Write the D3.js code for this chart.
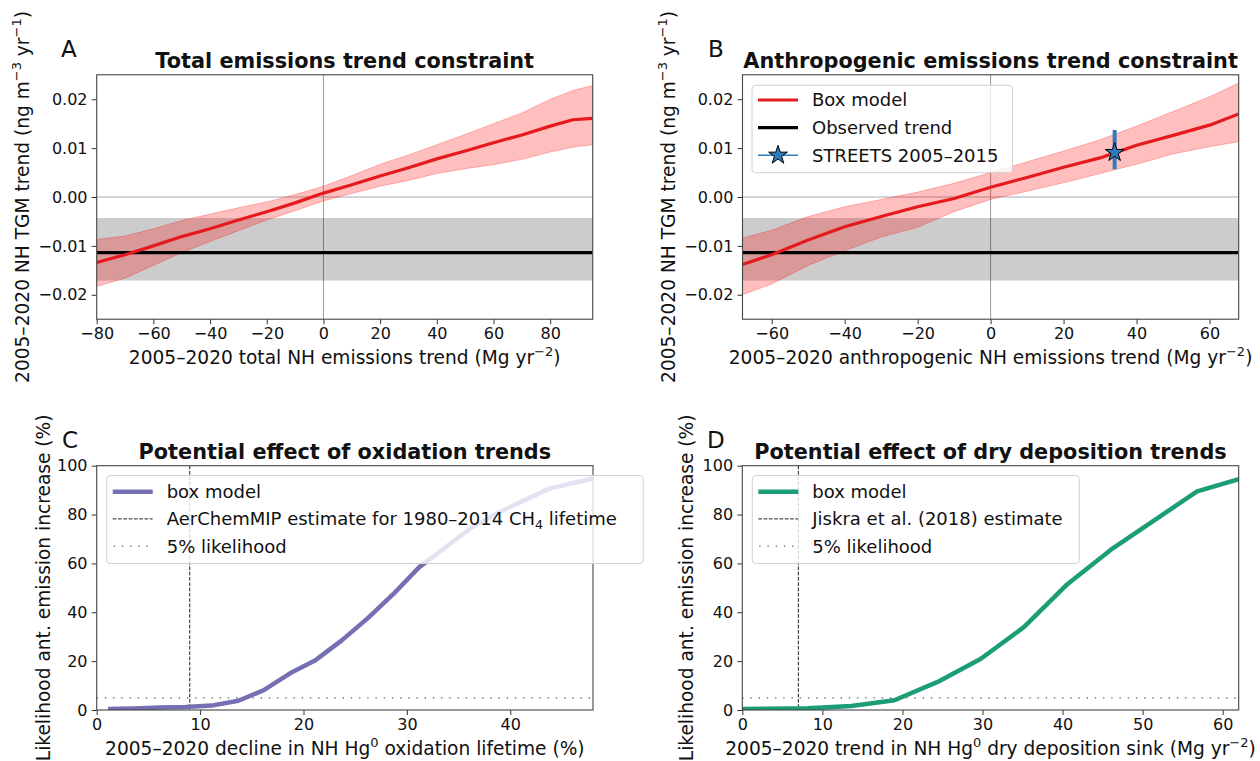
<!DOCTYPE html>
<html>
<head>
<meta charset="utf-8">
<script src="https://cdn.jsdelivr.net/npm/d3@7"></script>
<style>
  body { margin: 0; background: #fff; }
  text { font-family: "DejaVu Sans", sans-serif; fill: #111; }
</style>
</head>
<body>
<svg id="fig" width="1260" height="761"></svg>
<script>
// ---- Panel A: total emissions trend vs. TGM trend ----
const totalX     = [-80, -70, -60, -50, -40, -30, -20, -10, 0, 10, 20, 30, 40, 50, 60, 70, 80, 88, 95];
const totalMean  = [-0.0134, -0.0118, -0.0100, -0.0081, -0.0065, -0.0047, -0.0030, -0.0012, 0.0008, 0.0025, 0.0043, 0.0060, 0.0078, 0.0094, 0.0111, 0.0127, 0.0145, 0.0158, 0.0161];
const totalLower = [-0.0183, -0.0166, -0.0140, -0.0114, -0.0091, -0.0069, -0.0047, -0.0028, -0.0008, 0.0007, 0.0022, 0.0034, 0.0048, 0.0058, 0.0066, 0.0077, 0.0092, 0.0102, 0.0107];
const totalUpper = [-0.0087, -0.0080, -0.0065, -0.0048, -0.0035, -0.0022, -0.0010, 0.0005, 0.0022, 0.0044, 0.0067, 0.0086, 0.0107, 0.0128, 0.0150, 0.0172, 0.0200, 0.0218, 0.0228];

// ---- Panel B: anthropogenic emissions trend vs. TGM trend ----
const anthX     = [-68, -60, -50, -40, -30, -20, -10, 0, 10, 20, 30, 40, 50, 60, 68];
const anthMean  = [-0.0138, -0.0118, -0.0088, -0.0061, -0.0040, -0.0020, -0.0003, 0.0020, 0.0040, 0.0061, 0.0080, 0.0106, 0.0126, 0.0147, 0.0170];
const anthLower = [-0.0200, -0.0178, -0.0140, -0.0110, -0.0082, -0.0062, -0.0030, -0.0005, 0.0012, 0.0029, 0.0048, 0.0067, 0.0088, 0.0103, 0.0113];
const anthUpper = [-0.0084, -0.0068, -0.0040, -0.0020, -0.0005, 0.0010, 0.0028, 0.0050, 0.0072, 0.0094, 0.0117, 0.0145, 0.0175, 0.0205, 0.0233];

// Observed 2005–2020 NH TGM trend and its uncertainty range
const observedTrend = [-0.0114];
const observedRange = [-0.0171, -0.0043];

// STREETS 2005–2015 anthropogenic emissions trend
const streetsX = [34];
const streetsY = [0.0091];
const streetsRange = [0.0057, 0.0137];

// ---- Panel C: oxidation lifetime decline ----
const oxidationX = [1.1, 3.6, 6.1, 8.6, 11.1, 13.7, 16.2, 18.7, 21.2, 23.7, 26.2, 28.7, 31.2, 33.7, 36.2, 38.7, 41.2, 43.7, 46.2, 48.7];
const oxidationLikelihood = [0.4, 0.6, 1.0, 1.2, 1.8, 3.8, 8.2, 15.0, 20.5, 28.5, 37.5, 47.5, 58.5, 66.5, 74.5, 80.5, 85.5, 90.5, 93.0, 95.5];
const aerChemMIPEstimate = [9.0];

// ---- Panel D: dry deposition sink trend ----
const depositionX = [0, 2.8, 8.2, 13.6, 19.0, 24.4, 29.8, 35.2, 40.6, 46.0, 51.4, 56.8, 62.2];
const depositionLikelihood = [0.4, 0.5, 0.7, 1.6, 4.0, 11.5, 21.0, 34.0, 51.5, 65.5, 77.5, 89.5, 94.7];
const jiskraEstimate = [7.0];
const likelihoodThreshold = [5];

// ---- tick values ----
const ticksTotalX = [-80, -60, -40, -20, 0, 20, 40, 60, 80];
const ticksAnthX  = [-60, -40, -20, 0, 20, 40, 60];
const ticksTrendY = [-0.02, -0.01, 0.00, 0.01, 0.02];
const ticksOxX    = [0, 10, 20, 30, 40];
const ticksDepX   = [0, 10, 20, 30, 40, 50, 60];
const ticksPctY   = [0, 20, 40, 60, 80, 100];

const svg = d3.select("#fig");
const TICK_FS = 16, LABEL_FS = 18.6, TITLE_FS = 20.8, LEGEND_FS = 18;

// Writes text made of plain / superscript / subscript pieces.
function rich(textSel, parts, size) {
  let shift = 0;
  parts.forEach(([s, mode]) => {
    const target = mode === "sup" ? -0.42 * size : mode === "sub" ? 0.22 * size : 0;
    const t = textSel.append("tspan").text(s).attr("dy", target - shift);
    if (mode) t.attr("font-size", size * 0.7);
    shift = target;
  });
  return textSel;
}

function makePanel(cfg) {
  const g = svg.append("g");
  const x = d3.scaleLinear().domain(cfg.xDomain).range([cfg.left, cfg.right]);
  const y = d3.scaleLinear().domain(cfg.yDomain).range([cfg.bottom, cfg.top]);
  const clipId = "clip-" + cfg.id;
  svg.append("clipPath").attr("id", clipId).append("rect")
    .attr("x", cfg.left).attr("y", cfg.top)
    .attr("width", cfg.right - cfg.left).attr("height", cfg.bottom - cfg.top);
  const plot = g.append("g").attr("clip-path", `url(#${clipId})`);

  // axes
  const xa = g.append("g").attr("transform", `translate(0,${cfg.bottom})`)
    .call(d3.axisBottom(x).tickValues(cfg.xTicks).tickSize(5).tickPadding(3.6).tickFormat(cfg.xFormat));
  const ya = g.append("g").attr("transform", `translate(${cfg.left},0)`)
    .call(d3.axisLeft(y).tickValues(cfg.yTicks).tickSize(5).tickPadding(4.2).tickFormat(cfg.yFormat));
  [xa, ya].forEach(a => {
    a.select(".domain").remove();
    a.selectAll(".tick line").attr("stroke", "#333").attr("stroke-width", 1);
    a.selectAll(".tick text").attr("font-size", TICK_FS).attr("fill", "#111")
      .style("font-family", '"DejaVu Sans", sans-serif');
  });

  // frame
  g.append("rect").attr("x", cfg.left).attr("y", cfg.top)
    .attr("width", cfg.right - cfg.left).attr("height", cfg.bottom - cfg.top)
    .attr("fill", "none").attr("stroke", "#444").attr("stroke-width", 1.1);

  // title, panel letter, axis labels
  g.append("text").attr("x", (cfg.left + cfg.right) / 2).attr("y", cfg.top - 6.5)
    .attr("text-anchor", "middle").attr("font-size", TITLE_FS).attr("font-weight", "bold")
    .text(cfg.title);
  g.append("text").attr("x", cfg.letterX).attr("y", cfg.top - 17.5)
    .attr("font-size", 23).text(cfg.letter);
  rich(g.append("text").attr("x", (cfg.left + cfg.right) / 2).attr("y", cfg.bottom + 45)
    .attr("text-anchor", "middle").attr("font-size", LABEL_FS), cfg.xLabel, LABEL_FS);
  rich(g.append("text")
    .attr("transform", `translate(${cfg.yLabelX},${(cfg.top + cfg.bottom) / 2}) rotate(-90)`)
    .attr("text-anchor", "middle").attr("font-size", LABEL_FS), cfg.yLabel, LABEL_FS);

  return { g, plot, x, y };
}

function legend(g, box, rows) {
  g.append("rect").attr("x", box.x).attr("y", box.y).attr("width", box.w).attr("height", box.h)
    .attr("rx", 3.5).attr("fill", "rgba(255,255,255,0.8)").attr("stroke", "#d0d0d0").attr("stroke-width", 1);
  rows.forEach((r, i) => {
    const cy = box.y + box.first + i * box.step;
    const hx0 = box.x + 6, hx1 = box.x + 46;
    r.handle(g, hx0, hx1, cy);
    rich(g.append("text").attr("x", box.x + 60).attr("y", cy + 6.4).attr("font-size", LEGEND_FS), r.label, LEGEND_FS);
  });
}

const fmt2 = d3.format(".2f");
const fmt0 = d3.format("d");
const trendYLabel = [["2005–2020 NH TGM trend (ng m"], ["−3", "sup"], [" yr"], ["−1", "sup"], [")"]];
const pctYLabel = [["Likelihood ant. emission increase (%)"]];

function trendPanel(cfg, xs, mean, lower, upper) {
  const p = makePanel(cfg);
  const { plot, x, y } = p;
  // zero reference lines
  plot.append("line").attr("x1", cfg.left).attr("x2", cfg.right).attr("y1", y(0)).attr("y2", y(0))
    .attr("stroke", "#aaa").attr("stroke-width", 1);
  plot.append("line").attr("x1", x(0)).attr("x2", x(0)).attr("y1", cfg.top).attr("y2", cfg.bottom)
    .attr("stroke", "#999").attr("stroke-width", 1);
  // observed range band
  plot.append("rect").attr("x", cfg.left).attr("width", cfg.right - cfg.left)
    .attr("y", y(observedRange[1])).attr("height", y(observedRange[0]) - y(observedRange[1]))
    .attr("fill", "rgba(0,0,0,0.2)");
  // box model uncertainty band
  const idx = d3.range(xs.length);
  plot.append("path").datum(idx)
    .attr("d", d3.area().x(i => x(xs[i])).y0(i => y(lower[i])).y1(i => y(upper[i])))
    .attr("fill", "rgba(255,0,0,0.25)").attr("stroke", "rgba(255,0,0,0.25)").attr("stroke-width", 1);
  // observed trend
  plot.append("line").attr("x1", cfg.left).attr("x2", cfg.right)
    .attr("y1", y(observedTrend[0])).attr("y2", y(observedTrend[0]))
    .attr("stroke", "#000").attr("stroke-width", 3.2);
  // box model central estimate
  plot.append("path").datum(idx)
    .attr("d", d3.line().x(i => x(xs[i])).y(i => y(mean[i])))
    .attr("fill", "none").attr("stroke", "#e41a1c").attr("stroke-width", 3.2).attr("stroke-linejoin", "round");
  return p;
}

// ---- Panel A ----
trendPanel({
  id: "a", left: 96.7, right: 592.7, top: 74.8, bottom: 319.2,
  xDomain: [-80, 95], yDomain: [-0.025, 0.025],
  xTicks: ticksTotalX, yTicks: ticksTrendY, xFormat: fmt0, yFormat: fmt2,
  title: "Total emissions trend constraint", letter: "A", letterX: 61,
  xLabel: [["2005–2020 total NH emissions trend (Mg yr"], ["−2", "sup"], [")"]],
  yLabel: trendYLabel, yLabelX: 28.5
}, totalX, totalMean, totalLower, totalUpper);

// ---- Panel B ----
const pB = trendPanel({
  id: "b", left: 742.5, right: 1238.7, top: 74.8, bottom: 319.2,
  xDomain: [-68, 68], yDomain: [-0.025, 0.025],
  xTicks: ticksAnthX, yTicks: ticksTrendY, xFormat: fmt0, yFormat: fmt2,
  title: "Anthropogenic emissions trend constraint", letter: "B", letterX: 708,
  xLabel: [["2005–2020 anthropogenic NH emissions trend (Mg yr"], ["−2", "sup"], [")"]],
  yLabel: trendYLabel, yLabelX: 674.5
}, anthX, anthMean, anthLower, anthUpper);

const STREETS_BLUE = "#2f7bbf";
const star = d3.symbol().type(d3.symbolStar).size(110);
pB.plot.append("line")
  .attr("x1", pB.x(streetsX[0])).attr("x2", pB.x(streetsX[0]))
  .attr("y1", pB.y(streetsRange[0])).attr("y2", pB.y(streetsRange[1]))
  .attr("stroke", STREETS_BLUE).attr("stroke-width", 4);
pB.plot.append("path").attr("d", star)
  .attr("transform", `translate(${pB.x(streetsX[0])},${pB.y(streetsY[0])})`)
  .attr("fill", STREETS_BLUE).attr("stroke", "#000").attr("stroke-width", 1);

legend(pB.g, { x: 752, y: 85.3, w: 260.5, h: 87.4, first: 14.7, step: 27.6 }, [
  { label: [["Box model"]], handle: (g, a, b, cy) => g.append("line").attr("x1", a).attr("x2", b).attr("y1", cy).attr("y2", cy).attr("stroke", "#e41a1c").attr("stroke-width", 3.2) },
  { label: [["Observed trend"]], handle: (g, a, b, cy) => g.append("line").attr("x1", a).attr("x2", b).attr("y1", cy).attr("y2", cy).attr("stroke", "#000").attr("stroke-width", 3.2) },
  { label: [["STREETS 2005–2015"]], handle: (g, a, b, cy) => {
      g.append("line").attr("x1", a).attr("x2", b).attr("y1", cy).attr("y2", cy).attr("stroke", STREETS_BLUE).attr("stroke-width", 1.5);
      g.append("path").attr("d", star).attr("transform", `translate(${(a + b) / 2},${cy})`)
        .attr("fill", STREETS_BLUE).attr("stroke", "#000").attr("stroke-width", 1);
  } }
]);

// ---- Likelihood panels (C, D) ----
function likelihoodPanel(cfg, xs, ys, color, estimate, legendBox, estimateLabel) {
  const p = makePanel(cfg);
  const { plot, x, y } = p;
  plot.append("line").attr("x1", x(estimate[0])).attr("x2", x(estimate[0]))
    .attr("y1", cfg.top).attr("y2", cfg.bottom)
    .attr("stroke", "#222").attr("stroke-width", 1).attr("stroke-dasharray", "3.7,1.6");
  plot.append("line").attr("x1", cfg.left).attr("x2", cfg.right)
    .attr("y1", y(likelihoodThreshold[0])).attr("y2", y(likelihoodThreshold[0]))
    .attr("stroke", "#555").attr("stroke-width", 1.3).attr("stroke-dasharray", "1.3,6.9");
  plot.append("path").datum(d3.range(xs.length))
    .attr("d", d3.line().x(i => x(xs[i])).y(i => y(ys[i])))
    .attr("fill", "none").attr("stroke", color).attr("stroke-width", 4.5).attr("stroke-linejoin", "round");

  legend(p.g, legendBox, [
    { label: [["box model"]], handle: (g, a, b, cy) => g.append("line").attr("x1", a).attr("x2", b).attr("y1", cy).attr("y2", cy).attr("stroke", color).attr("stroke-width", 4.5) },
    { label: estimateLabel, handle: (g, a, b, cy) => g.append("line").attr("x1", a).attr("x2", b).attr("y1", cy).attr("y2", cy).attr("stroke", "#222").attr("stroke-width", 1).attr("stroke-dasharray", "3.7,1.6") },
    { label: [["5% likelihood"]], handle: (g, a, b, cy) => g.append("line").attr("x1", a + 1).attr("x2", b).attr("y1", cy).attr("y2", cy).attr("stroke", "#555").attr("stroke-width", 1.3).attr("stroke-dasharray", "1.3,6.9") }
  ]);
  return p;
}

likelihoodPanel({
  id: "c", left: 96.7, right: 593, top: 465.7, bottom: 710,
  xDomain: [0, 48], yDomain: [0, 100],
  xTicks: ticksOxX, yTicks: ticksPctY, xFormat: fmt0, yFormat: fmt0,
  title: "Potential effect of oxidation trends", letter: "C", letterX: 62,
  xLabel: [["2005–2020 decline in NH Hg"], ["0", "sup"], [" oxidation lifetime (%)"]],
  yLabel: pctYLabel, yLabelX: 50
}, oxidationX, oxidationLikelihood, "#7570b3", aerChemMIPEstimate,
  { x: 106.7, y: 475.5, w: 536.5, h: 88, first: 16.2, step: 27.2 },
  [["AerChemMIP estimate for 1980–2014 CH"], ["4", "sub"], [" lifetime"]]);

likelihoodPanel({
  id: "d", left: 742.3, right: 1238.7, top: 465.7, bottom: 710,
  xDomain: [0, 62], yDomain: [0, 100],
  xTicks: ticksDepX, yTicks: ticksPctY, xFormat: fmt0, yFormat: fmt0,
  title: "Potential effect of dry deposition trends", letter: "D", letterX: 707,
  xLabel: [["2005–2020 trend in NH Hg"], ["0", "sup"], [" dry deposition sink (Mg yr"], ["−2", "sup"], [")"]],
  yLabel: pctYLabel, yLabelX: 693
}, depositionX, depositionLikelihood, "#1b9e77", jiskraEstimate,
  { x: 752.3, y: 475.5, w: 327, h: 88, first: 16.2, step: 27.2 },
  [["Jiskra et al. (2018) estimate"]]);
</script>
</body>
</html>
